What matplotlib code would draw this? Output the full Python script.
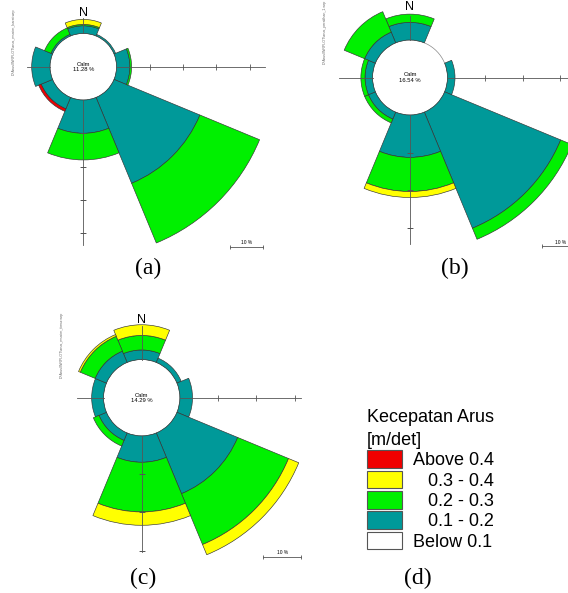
import matplotlib.pyplot as plt
import numpy as np
from matplotlib.patches import Patch

plt.rcParams['font.family'] = ['Liberation Sans', 'DejaVu Sans']

W, H = 568, 593

# arah dan kelas kecepatan
arah = ['N', 'NE', 'E', 'SE', 'S', 'SW', 'W', 'NW']
sudut = [0, 45, 90, 135, 180, 225, 270, 315]
kelas = ['Above 0.4', '   0.3 - 0.4', '   0.2 - 0.3', '   0.1 - 0.2', 'Below 0.1']
warna = ['#f00000', '#ffff00', '#00f000', '#009999', '#ffffff']

# (a) frekuensi (%) per arah
calm_a = 11.28
a_01_02 = [2.3, 0.5, 4.0, 27.9, 10.0, 3.7, 5.5, 0.5]
a_02_03 = [0.4, 0.0, 0.5, 19.4, 8.0, 0.0, 0.0, 2.1]
a_03_04 = [1.5, 0.0, 0.0, 0.0, 0.0, 0.0, 0.0, 0.0]
a_04 = [0.0, 0.0, 0.0, 0.0, 0.0, 0.8, 0.0, 0.0]

# (b)
calm_b = 16.54
b_01_02 = [4.7, 0.0, 2.0, 33.5, 11.3, 2.0, 2.0, 3.1]
b_02_03 = [2.2, 0.0, 0.0, 3.2, 9.1, 1.1, 1.1, 5.9]
b_03_04 = [0.0, 0.0, 0.0, 0.0, 1.6, 0.0, 0.0, 0.0]
b_04 = [0.0, 0.0, 0.0, 0.0, 0.0, 0.0, 0.0, 0.0]

# (c)
calm_c = 14.29
c_01_02 = [2.5, 1.2, 3.3, 17.2, 6.9, 2.1, 3.1, 3.2]
c_02_03 = [3.8, 0.0, 0.0, 14.4, 13.0, 1.6, 0.0, 4.2]
c_03_04 = [2.8, 0.0, 0.0, 2.9, 3.5, 0.0, 0.0, 0.5]
c_04 = [0.0, 0.0, 0.0, 0.0, 0.0, 0.0, 0.0, 0.0]

fig = plt.figure(figsize=(W / 100, H / 100), dpi=100)
ov = fig.add_axes([0, 0, 1, 1])
ov.set_xlim(0, W)
ov.set_ylim(H, 0)
ov.axis('off')

teta = np.deg2rad(sudut)
lebar = np.deg2rad(45)
abu = '#555555'


def rose(cx, cy, s, calm, bins, garis, r_n, path, px):
    R = 62
    rp = R * s
    ax = fig.add_axes([(cx - rp) / W, (H - cy - rp) / H, 2 * rp / W, 2 * rp / H],
                      projection='polar')
    ax.set_theta_zero_location('N')
    ax.set_theta_direction(-1)
    ax.set_ylim(0, R)
    ax.set_axis_off()
    ax.patch.set_alpha(0)

    dasar = np.full(8, 10.0)
    for nilai, c in zip(bins, ['#009999', '#00f000', '#ffff00', '#f00000']):
        nilai = np.array(nilai)
        m = nilai > 0
        ax.bar(teta[m], nilai[m], width=lebar, bottom=dasar[m], color=c,
               edgecolor='#333333', linewidth=0.45, zorder=2)
        dasar = dasar + nilai

    t = np.linspace(0, 2 * np.pi, 300)
    ax.plot(t, np.full_like(t, 10), color='#888888', lw=0.5, zorder=1)

    up, down, left, right = garis
    for th, r1 in [(0, up), (np.pi, down), (1.5 * np.pi, left), (0.5 * np.pi, right)]:
        ax.plot([th, th], [10, r1], color=abu, lw=0.6, zorder=3)
    tk = np.arange(20, 61, 10)
    tr = tk[tk <= right]
    ax.plot(np.full(len(tr), 0.5 * np.pi), tr, ls='none', marker='|', ms=4,
            color=abu, mew=0.6, zorder=3)
    td = tk[tk <= down]
    ax.plot(np.full(len(td), np.pi), td, ls='none', marker='_', ms=4,
            color=abu, mew=0.6, zorder=3)

    ax.text(0, 0, 'Calm\n%.2f %%' % calm, ha='center', va='center', fontsize=4.2,
            linespacing=1.0, zorder=4)
    ax.text(0, r_n, 'N', ha='center', va='center', fontsize=9)

    # teks kecil di kiri
    ov.text(px[0], px[1], path, rotation=90, ha='center', va='center',
            fontsize=2.6, color='#666666')


rose(83.3, 66.7, 3.33, calm_a, [a_01_02, a_02_03, a_03_04, a_04],
     (14.5, 53.5, 17, 54.6), 16.2, 'D:\\Arus\\WRPLOT\\arus_musim_barat.wrp', (14, 42))
rose(410, 77.5, 3.75, calm_b, [b_01_02, b_02_03, b_03_04, b_04],
     (16.5, 44.5, 19, 50), 18.9, 'D:\\Arus\\WRPLOT\\arus_peralihan_1.wrp', (325, 32))
rose(141.7, 397.7, 3.82, calm_c, [c_01_02, c_02_03, c_03_04, c_04],
     (18.7, 40.5, 17, 41.6), 20.4, 'D:\\Arus\\WRPLOT\\arus_musim_timur.wrp', (62, 345))

# skala 10 %
for x0, y0, s in [(230, 247, 3.33), (542, 246, 3.75), (263, 557, 3.82)]:
    ov.plot([x0, x0 + 10 * s], [y0, y0], color=abu, lw=0.6)
    ov.plot([x0, x0 + 10 * s], [y0, y0], ls='none', marker='|', ms=3, mew=0.6, color=abu)
    ov.text(x0 + 5 * s, y0 - 1.5, '10 %', ha='center', va='bottom', fontsize=3.5)

# keterangan gambar
for lab, x, y in [('(a)', 148, 268), ('(b)', 455, 268), ('(c)', 143, 578), ('(d)', 418, 578)]:
    ov.text(x, y, lab, ha='center', va='center', fontsize=17,
            family=['Liberation Serif', 'DejaVu Serif'])

handles = [Patch(facecolor=c, edgecolor='#555555', linewidth=0.8) for c in warna]
leg = fig.legend(handles, kelas, loc='upper left', bbox_to_anchor=(367 / W, 1 - 409 / H),
                 frameon=False, title='Kecepatan Arus\n[m/det]', alignment='left',
                 fontsize=13, title_fontsize=13, handlelength=1.94, handleheight=1.12,
                 handletextpad=0.6, labelspacing=0.08, borderpad=0, borderaxespad=0)
leg.get_title().set_linespacing(1.45)

fig.savefig('out.png', dpi=100)
